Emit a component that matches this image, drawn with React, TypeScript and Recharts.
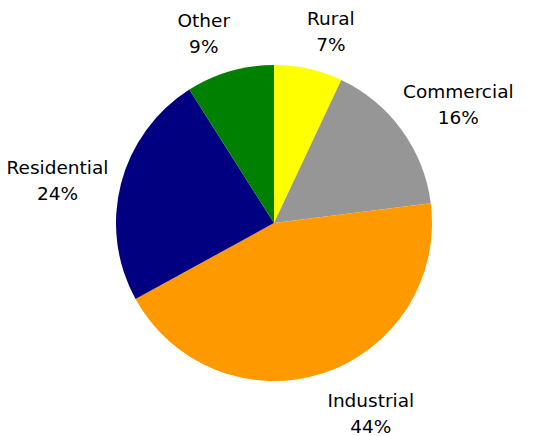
import { PieChart, Pie, Cell } from "recharts"

const categories = ["Rural", "Commercial", "Industrial", "Residential", "Other"]
const shares = [7, 16, 44, 24, 9]
const colors = ["#FFFF00", "#969696", "#FF9900", "#000080", "#008000"]

const data = categories.map((name, i) => ({ name, value: shares[i] }))

const RADIAN = Math.PI / 180
const clamp = (v: number, lo: number, hi: number) => Math.max(lo, Math.min(hi, v))

// places the two-line label box just outside the slice, corner toward the pie
const renderLabel = (props: any) => {
  const { cx, cy, midAngle, outerRadius, name, value } = props
  const pct = `${value}%`
  const w = Math.max(name.length, pct.length) * 9.5
  const h = 45
  const sx = Math.cos(-midAngle * RADIAN)
  const sy = Math.sin(-midAngle * RADIAN)
  const R = outerRadius + 17
  const fx = clamp(sx * 4, -1, 1) * 0.9
  const fy = Math.sign(sy) * clamp((Math.abs(sy) - 0.25) / 0.45, 0, 1)
  const x = cx + R * sx + fx * (w / 2)
  const y = cy + R * sy + fy * (h / 2)
  return (
    <text
      x={x}
      y={y}
      textAnchor="middle"
      fill="#000"
      fontFamily="DejaVu Sans"
      fontSize={18.5}
    >
      <tspan x={x} y={y - 5}>{name}</tspan>
      <tspan x={x} y={y + 21}>{pct}</tspan>
    </text>
  )
}

export default function App() {
  return (
    <div style={{ position: "absolute", left: 0, top: 0 }}>
      <PieChart width={540} height={436} margin={{ top: 0, right: 0, bottom: 0, left: 0 }}>
        <Pie
          data={data}
          dataKey="value"
          nameKey="name"
          cx={274}
          cy={223}
          outerRadius={158}
          startAngle={90}
          endAngle={-270}
          stroke="none"
          label={renderLabel}
          labelLine={false}
          isAnimationActive={false}
        >
          {data.map((d, i) => (
            <Cell key={d.name} fill={colors[i]} />
          ))}
        </Pie>
      </PieChart>
    </div>
  )
}
